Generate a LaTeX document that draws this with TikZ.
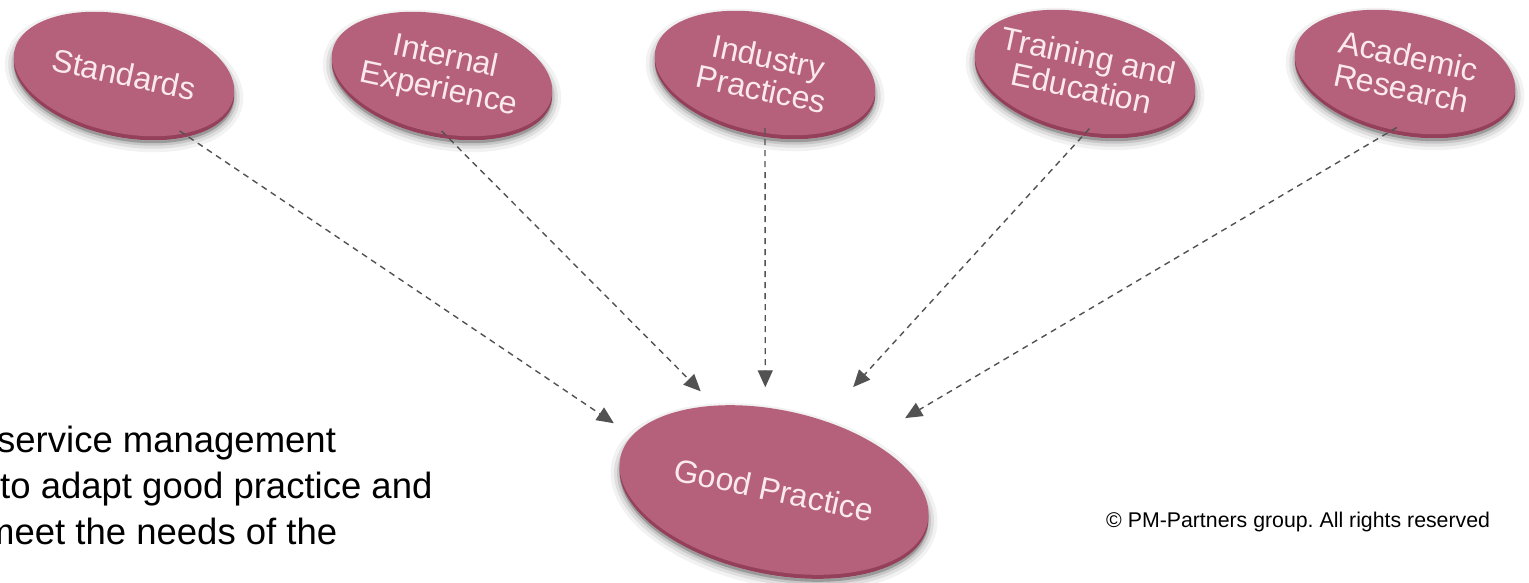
\documentclass[tikz,border=0pt]{standalone}
\usepackage{fontspec}
\setmainfont{Liberation Sans}
\frenchspacing
\usetikzlibrary{shapes.geometric,arrows.meta,shadows}

% disc colours
\definecolor{discIn}{RGB}{182,97,123}
\definecolor{discMid}{RGB}{193,111,136}
\definecolor{discEdge}{RGB}{216,146,166}
\definecolor{discRim}{RGB}{148,64,90}
\definecolor{discText}{RGB}{251,233,240}
\definecolor{linkGray}{RGB}{82,82,82}

% face of a disc: flat centre, lighter rim towards the upper left
\pgfdeclareradialshading{discshade}{\pgfpoint{5bp}{-5bp}}{%
  color(0bp)=(discIn); color(32bp)=(discIn); color(45bp)=(discMid); color(53bp)=(discEdge)}

\tikzset{
  % soft drop shadow built from stacked translucent strokes
  softshadow/.style={
    preaction={fill=black, fill opacity=0.22, draw=black, draw opacity=0.05,
      line width=18pt, transform canvas={yshift=-7pt}},
    preaction={draw=black, draw opacity=0.08, line width=11pt, transform canvas={yshift=-7pt}},
    preaction={draw=black, draw opacity=0.11, line width=5pt, transform canvas={yshift=-7pt}}},
  disc/.style={ellipse, rotate=-12, align=center, text=discText,
    shading=discshade, softshadow,
    copy shadow={shadow xshift=0pt, shadow yshift=-4pt, fill=discRim, draw=none}},
  topdisc/.style={disc, inner sep=-16pt, minimum width=224pt, minimum height=118pt,
    font=\fontsize{32}{33}\selectfont},
  gooddisc/.style={disc, inner sep=0pt, minimum width=314pt, minimum height=160pt,
    font=\fontsize{32}{34}\selectfont},
  link/.style={draw=linkGray, line width=1.4pt, dash pattern=on 6pt off 5pt,
    -{Triangle[length=17pt,width=15pt]}, shorten <=-5pt},
  bodytext/.style={anchor=base west, inner sep=0pt, font=\fontsize{36.5}{46}\selectfont},
}

\begin{document}
\begin{tikzpicture}[x=1pt,y=-1pt]
  \useasboundingbox (0,0) rectangle (1529,582);
  \fill[white] (0,0) rectangle (1529,582);

  % sources
  \node[topdisc] (std) at (124,74)  {Standards};
  \node[topdisc] (ie)  at (442,74)  {Internal\\Experience};
  \node[topdisc] (ip)  at (765,73)  {Industry\\Practices};
  \node[topdisc] (te)  at (1085,72) {Training and\\Education};
  \node[topdisc] (ar)  at (1405,72) {Academic\\Research};

  % result
  \node[gooddisc] (gp) at (774,490) {Good Practice};

  % flows into good practice
  \draw[link, shorten >=22pt] (std.-33) -- (gp.171);
  \draw[link, shorten >=20pt] (ie.-75)  -- (gp.137);
  \draw[link, shorten >=20pt] (ip.-78)  -- (gp.108);
  \draw[link, shorten >=45pt] (te.-77)  -- (gp.67);
  \draw[link, shorten >=43pt] (ar.-90)  -- (gp.40);

  % body text, running in from the left edge
  \node[bodytext] (l1) at (-3,452)  {service management};
  \node[bodytext] (l2) at (0,498)   {to adapt good practice and};
  \node[bodytext] (l3) at (-16,544) {meet the needs of the};

  \node[anchor=base west, inner sep=0pt, font=\fontsize{21.3}{25}\selectfont] (copy) at (1106,527)
    {\textcopyright{} PM-Partners group. All rights reserved};
\end{tikzpicture}
\end{document}
